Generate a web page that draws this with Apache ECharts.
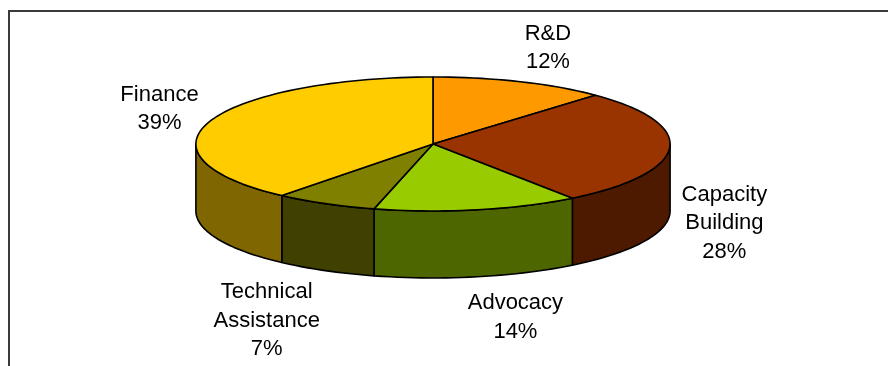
<!DOCTYPE html>
<html>
<head>
<meta charset="utf-8">
<script src="https://cdn.jsdelivr.net/npm/echarts@6/dist/echarts.min.js"></script>
<style>
  html, body { margin: 0; padding: 0; background: #fff; }
  #chart { width: 888px; height: 366px; }
</style>
</head>
<body>
<div id="chart"></div>
<script>
// slices, clockwise from 12 o'clock
const categories = ["R&D", "Capacity\nBuilding", "Advocacy", "Technical\nAssistance", "Finance"]
const shares = [12, 28, 14, 7, 39]

const topColors = ["#ff9900", "#993300", "#99cc00", "#808000", "#ffcc00"]
const sideColors = ["#804d00", "#4d1a00", "#4d6600", "#404000", "#806600"]

const total = shares.reduce((a, b) => a + b, 0)
const starts = []
let acc = 0
shares.forEach((v) => {
  starts.push((acc / total) * 360)
  acc += v
})

const FONT = '22px "Liberation Sans", Arial, sans-serif'
const LINE_H = 28.5
const measureCtx = document.createElement("canvas").getContext("2d")
measureCtx.font = FONT
const textWidth = (s) => Math.max(...s.split("\n").map((l) => measureCtx.measureText(l).width))

const chart = echarts.init(document.getElementById("chart"), null, { renderer: "canvas" })

function renderSlice(params, api) {
  const W = api.getWidth()
  const H = api.getHeight()
  const cx = W * 0.4876
  const cy = H * 0.3934
  const rx = W * 0.267
  const ry = H * 0.183
  const depth = H * 0.183

  const i = params.dataIndex
  const a0 = starts[i]
  const a1 = a0 + (api.value(0) / total) * 360
  const rad = (d) => (d * Math.PI) / 180
  const pt = (d, dy) => [cx + rx * Math.sin(rad(d)), cy - ry * Math.cos(rad(d)) + dy]
  const arc = (from, to, dy) => {
    const n = Math.max(2, Math.ceil(Math.abs(to - from) / 2) + 1)
    const out = []
    for (let k = 0; k < n; k++) out.push(pt(from + ((to - from) * k) / (n - 1), dy))
    return out
  }

  const children = []
  const edge = { stroke: "#000", lineWidth: 1.6, lineJoin: "round" }

  // visible front wall
  const lo = Math.max(a0, 90)
  const hi = Math.min(a1, 270)
  if (lo < hi) {
    children.push({
      type: "polygon",
      shape: { points: arc(lo, hi, 0).concat(arc(hi, lo, depth)) },
      style: Object.assign({ fill: sideColors[i] }, edge),
    })
  }

  // top face
  children.push({
    type: "polygon",
    shape: { points: [[cx, cy]].concat(arc(a0, a1, 0)) },
    style: Object.assign({ fill: topColors[i] }, edge),
  })

  // label
  const pct = Math.round((api.value(0) / total) * 100)
  const text = categories[i] + "\n" + pct + "%"
  const mid = rad((a0 + a1) / 2)
  const s = Math.sin(mid)
  const c = Math.cos(mid)
  const w = textWidth(text)
  const h = text.split("\n").length * LINE_H
  const lx = cx + (rx + 12) * s + Math.sign(s) * Math.min(1, 4 * Math.abs(s)) * (w / 2)
  const ly = cy - c * (ry + 8 + h / 2) + (c < 0 ? depth + 5 : 0)
  children.push({
    type: "text",
    style: {
      text: text,
      x: lx,
      y: ly,
      align: "center",
      verticalAlign: "middle",
      font: FONT,
      lineHeight: LINE_H,
      fill: "#000",
    },
  })

  return { type: "group", children: children }
}

const option = {
  animation: false,
  backgroundColor: "#fff",
  graphic: [
    {
      type: "polyline",
      silent: true,
      shape: { points: [[9, 366], [9, 11], [888, 11]] },
      style: { stroke: "#3a3a3a", lineWidth: 2, fill: null },
    },
  ],
  series: [
    {
      type: "custom",
      coordinateSystem: "none",
      renderItem: renderSlice,
      data: shares.map((v, i) => ({ value: v, name: categories[i] })),
    },
  ],
}

chart.setOption(option)
</script>
</body>
</html>
